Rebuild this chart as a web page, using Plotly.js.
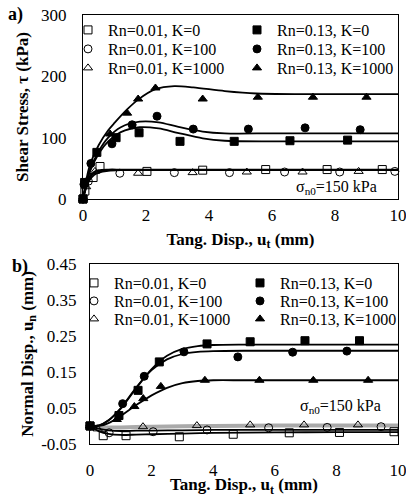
<!DOCTYPE html>
<html>
<head>
<meta charset="utf-8">
<script src="https://cdn.plot.ly/plotly-3.0.1.min.js"></script>
<style>html,body{margin:0;padding:0;background:#fff}#chart{width:406px;height:497px}</style>
</head>
<body>
<div id="chart"></div>
<script>
// ---------- (a) Shear stress vs tangential displacement: measured points ----------
const a_lo_K0_x   = [0, 0.06, 0.32, 0.54, 2.03, 3.8, 5.8, 7.75, 9.5];
const a_lo_K0_y   = [0, 13, 35, 53, 45, 47, 48, 48, 48];
const a_lo_K100_x = [0, 0.17, 1.17, 2.9, 4.65, 6.4, 8.15, 9.9];
const a_lo_K100_y = [0, 29, 42, 43, 43, 44, 44, 45];
const a_lo_K1000_x = [0, 0.1, 0.38, 1.75, 3.48, 5.2, 6.97, 8.75];
const a_lo_K1000_y = [0, 20, 45, 42, 43, 44, 44, 45];
const a_hi_K0_x   = [0, 0.05, 0.44, 1.05, 1.78, 3.08, 4.8, 6.57, 8.4];
const a_hi_K0_y   = [0, 27, 76, 100, 108, 94, 94, 95, 96];
const a_hi_K100_x = [0, 0.03, 0.25, 0.92, 1.56, 2.35, 3.5, 5.25, 7.05, 8.8];
const a_hi_K100_y = [0, 24, 58, 90, 121, 135, 114, 114, 116, 113];
const a_hi_K1000_x = [0, 0.86, 1.4, 1.75, 2.3, 3.8, 5.55, 7.3, 9.0];
const a_hi_K1000_y = [0, 106, 140, 163, 181, 163, 166, 166, 166];

// ---------- (a) model curves ----------
const a_lo_curve_x = [0, 0.1, 0.2, 0.35, 0.5, 0.8, 1.2, 2, 4, 10];
const a_lo_K0_cy   = [0, 22, 36, 44, 47, 48, 48, 48, 48, 48];
const a_lo_K100_cy = [0, 18, 30, 39, 43, 46, 47, 47, 47, 47];
const a_lo_K1000_cy = [0, 20, 33, 42, 45, 47, 47, 47, 47, 47];
const a_hi_curve_x = [0, 0.2, 0.5, 0.8, 1.2, 1.8, 2.4, 3, 3.8, 4.5, 6, 8, 10];
const a_hi_K0_cy   = [0, 42, 74, 94, 109, 117, 115, 108, 99, 95, 94, 94, 94];
const a_hi_K100_cy = [0, 45, 78, 100, 117, 126, 125, 118, 110, 107, 107, 107, 107];
const a_hi_K1000_cx = [0, 0.2, 0.5, 0.8, 1.0, 1.4, 1.75, 2.3, 2.9, 3.5, 4.5, 5.5, 7, 10];
const a_hi_K1000_cy = [0, 52, 88, 112, 124, 146, 162, 179, 184, 182, 176, 172, 171, 171];

// ---------- (b) Normal displacement vs tangential displacement: measured points ----------
const b_lo_K0_x   = [0, 0.43, 1.17, 2.9, 4.65, 6.47, 8.1, 9.87];
const b_lo_K0_y   = [0, -0.027, -0.027, -0.030, -0.023, -0.019, -0.018, -0.016];
const b_lo_K100_x = [0, 0.62, 2.05, 3.8, 5.8, 7.7, 9.45];
const b_lo_K100_y = [0, -0.019, -0.016, -0.011, -0.005, -0.004, -0.002];
const b_lo_K1000_x = [0, 0.25, 1.72, 3.47, 5.2, 6.95, 8.7];
const b_lo_K1000_y = [0, -0.008, -0.002, 0.001, 0.003, 0.003, 0.003];
const b_hi_K0_x   = [0, 0.94, 1.56, 2.25, 3.8, 5.2, 6.98, 8.75];
const b_hi_K0_y   = [0, 0.029, 0.099, 0.178, 0.228, 0.234, 0.237, 0.237];
const b_hi_K100_x = [0, 1.06, 1.76, 3.05, 4.8, 6.58, 8.34];
const b_hi_K100_y = [0, 0.062, 0.138, 0.206, 0.192, 0.205, 0.208];
const b_hi_K1000_x = [0, 0.87, 1.44, 1.73, 2.3, 3.73, 5.5, 7.25, 9.03];
const b_hi_K1000_y = [0, 0.018, 0.054, 0.076, 0.11, 0.127, 0.127, 0.127, 0.127];

// ---------- (b) model curves ----------
const b_hi_curve_x = [0, 0.3, 0.6, 1, 1.5, 2, 2.5, 3, 3.5, 4, 5, 7, 10];
const b_hi_K0_cy   = [0, 0.002, 0.015, 0.048, 0.105, 0.158, 0.195, 0.214, 0.222, 0.225, 0.226, 0.226, 0.226];
const b_hi_K100_cy = [0, 0.002, 0.016, 0.05, 0.107, 0.155, 0.185, 0.2, 0.206, 0.208, 0.209, 0.209, 0.209];
const b_hi_K1000_cy = [0, 0.0, 0.008, 0.028, 0.058, 0.085, 0.106, 0.119, 0.125, 0.127, 0.127, 0.127, 0.127];
const b_lo_curve_x = [0, 0.3, 0.6, 1, 1.5, 2, 3, 4, 6, 8, 10];
const b_lo_K0_cy   = [0, -0.015, -0.022, -0.025, -0.024, -0.023, -0.021, -0.019, -0.018, -0.017, -0.017];
const b_lo_K100_cy = [0, -0.008, -0.012, -0.014, -0.013, -0.013, -0.012, -0.011, -0.011, -0.011, -0.011];
const b_lo_K1000_cy = [0, -0.003, -0.004, -0.004, -0.003, -0.002, -0.001, 0, 0.001, 0.001, 0.001];

const xTicks = [0, 2, 4, 6, 8, 10];
const yTicksA = [0, 100, 200, 300];
const yTicksB = [-0.05, 0.05, 0.15, 0.25, 0.35, 0.45];
const yTicksBText = ['-0.05', '0.05', '0.15', '0.25', '0.35', '0.45'];
const seriesNames = ['Rn=0.01, K=0', 'Rn=0.01, K=100', 'Rn=0.01, K=1000', 'Rn=0.13, K=0', 'Rn=0.13, K=100', 'Rn=0.13, K=1000'];
const seriesSymbols = ['square-open', 'circle-open', 'triangle-up-open', 'square', 'circle', 'triangle-up'];

const FONT = '"Liberation Serif", "Times New Roman", Times, serif';
const traces = [];

function curve(x, y, xa, ya, color, width) {
  traces.push({x: x, y: y, xaxis: xa, yaxis: ya, mode: 'lines', showlegend: false, hoverinfo: 'skip',
    line: {color: color || '#000', width: width || 1.8, shape: 'spline', smoothing: 0.8}, cliponaxis: false});
}
function pts(x, y, xa, ya, idx, legend) {
  traces.push({x: x, y: y, xaxis: xa, yaxis: ya, mode: 'markers', name: seriesNames[idx], legend: legend,
    cliponaxis: false,
    marker: {symbol: seriesSymbols[idx], size: 8, color: '#000', line: {color: '#000', width: 1}}});
}

// curves (a)
curve(a_lo_curve_x, a_lo_K0_cy, 'x', 'y');
curve(a_lo_curve_x, a_lo_K100_cy, 'x', 'y');
curve(a_lo_curve_x, a_lo_K1000_cy, 'x', 'y');
curve(a_hi_curve_x, a_hi_K0_cy, 'x', 'y');
curve(a_hi_curve_x, a_hi_K100_cy, 'x', 'y');
curve(a_hi_K1000_cx, a_hi_K1000_cy, 'x', 'y');
// curves (b)
curve(b_lo_curve_x, b_lo_K1000_cy, 'x2', 'y2', '#aaa', 4);
curve(b_lo_curve_x, b_lo_K100_cy, 'x2', 'y2');
curve(b_lo_curve_x, b_lo_K0_cy, 'x2', 'y2');
curve(b_hi_curve_x, b_hi_K0_cy, 'x2', 'y2');
curve(b_hi_curve_x, b_hi_K100_cy, 'x2', 'y2');
curve(b_hi_curve_x, b_hi_K1000_cy, 'x2', 'y2');

// markers (a): legends 1..6, markers (b): legends 7..12
const legName = i => (i === 1 ? 'legend' : 'legend' + i);
pts(a_lo_K0_x, a_lo_K0_y, 'x', 'y', 0, legName(1));
pts(a_lo_K100_x, a_lo_K100_y, 'x', 'y', 1, legName(2));
pts(a_lo_K1000_x, a_lo_K1000_y, 'x', 'y', 2, legName(3));
pts(a_hi_K0_x, a_hi_K0_y, 'x', 'y', 3, legName(4));
pts(a_hi_K100_x, a_hi_K100_y, 'x', 'y', 4, legName(5));
pts(a_hi_K1000_x, a_hi_K1000_y, 'x', 'y', 5, legName(6));
pts(b_lo_K0_x, b_lo_K0_y, 'x2', 'y2', 0, legName(7));
pts(b_lo_K100_x, b_lo_K100_y, 'x2', 'y2', 1, legName(8));
pts(b_lo_K1000_x, b_lo_K1000_y, 'x2', 'y2', 2, legName(9));
pts(b_hi_K0_x, b_hi_K0_y, 'x2', 'y2', 3, legName(10));
pts(b_hi_K100_x, b_hi_K100_y, 'x2', 'y2', 4, legName(11));
pts(b_hi_K1000_x, b_hi_K1000_y, 'x2', 'y2', 5, legName(12));

const W = 406, H = 497;
const px = v => v / W;
const py = v => 1 - v / H;

// invisible outside ticks are used only to set the gap between axis line and tick labels
const axBase = {
  showgrid: false, zeroline: false, showline: true, linecolor: '#000', linewidth: 1, mirror: true,
  ticks: 'outside', tickcolor: 'rgba(0,0,0,0)', automargin: false,
  tickfont: {family: FONT, size: 17, color: '#000'}
};
const titleFont = {family: FONT, size: 17, color: '#000'};

const layout = {
  width: W, height: H, margin: {l: 0, r: 0, t: 0, b: 0},
  paper_bgcolor: '#fff', plot_bgcolor: '#fff', showlegend: true,
  font: {family: FONT, color: '#000'},
  xaxis: Object.assign({}, axBase, {domain: [px(83), px(398)], range: [0, 10], tickvals: xTicks, anchor: 'y',
    ticklen: 1, ticklabeloverflow: 'allow',
    title: {text: '<b>Tang. Disp., u<sub>t</sub> (mm)</b>', font: titleFont, standoff: 8}}),
  yaxis: Object.assign({}, axBase, {domain: [py(199), py(15)], range: [0, 300], tickvals: yTicksA, anchor: 'x',
    ticklen: 12,
    title: {text: '<b>Shear Stress, τ (kPa)</b>', font: titleFont, standoff: 8}}),
  xaxis2: Object.assign({}, axBase, {domain: [px(90), px(398)], range: [0, 10], tickvals: xTicks, anchor: 'y2',
    ticklen: 11, ticklabeloverflow: 'allow',
    title: {text: '<b>Tang. Disp., u<sub>t</sub> (mm)</b>', font: titleFont, standoff: 5}}),
  yaxis2: Object.assign({}, axBase, {domain: [py(444), py(264)], range: [-0.0501, 0.4501], tickvals: yTicksB,
    ticktext: yTicksBText, anchor: 'x2', ticklen: 9,
    title: {text: '<b>Normal Disp., u<sub>n</sub> (mm)</b>', font: titleFont, standoff: 3}}),
  annotations: [
    {text: '<b>a)</b>', xref: 'paper', yref: 'paper', x: px(6), y: py(15), xanchor: 'left', yanchor: 'middle',
      showarrow: false, font: {family: FONT, size: 18, color: '#000'}},
    {text: '<b>b)</b>', xref: 'paper', yref: 'paper', x: px(10), y: py(266), xanchor: 'left', yanchor: 'middle',
      showarrow: false, font: {family: FONT, size: 18, color: '#000'}},
    {text: 'σ<sub>n0</sub>=150 kPa', xref: 'paper', yref: 'paper', x: px(379), y: py(187), xanchor: 'right', yanchor: 'middle',
      showarrow: false, font: {family: FONT, size: 16, color: '#000'}},
    {text: 'σ<sub>n0</sub>=150 kPa', xref: 'paper', yref: 'paper', x: px(383), y: py(406), xanchor: 'right', yanchor: 'middle',
      showarrow: false, font: {family: FONT, size: 16, color: '#000'}}
  ]
};

// one legend per entry, placed in two columns of three rows inside each panel
const legCols = [[68, 237], [74, 240]];
const legRows = [[30, 49, 68], [283, 301, 319]];
for (let p = 0; p < 2; p++) {
  for (let c = 0; c < 2; c++) {
    for (let r = 0; r < 3; r++) {
      const n = p * 6 + c * 3 + r + 1;
      layout[legName(n)] = {
        x: px(legCols[p][c]), y: py(legRows[p][r]), xanchor: 'left', yanchor: 'middle',
        bgcolor: 'rgba(0,0,0,0)', borderwidth: 0, itemwidth: 30,
        font: {family: FONT, size: 16, color: '#000'}
      };
    }
  }
}

Plotly.newPlot('chart', traces, layout, {displayModeBar: false, staticPlot: true});
</script>
</body>
</html>
